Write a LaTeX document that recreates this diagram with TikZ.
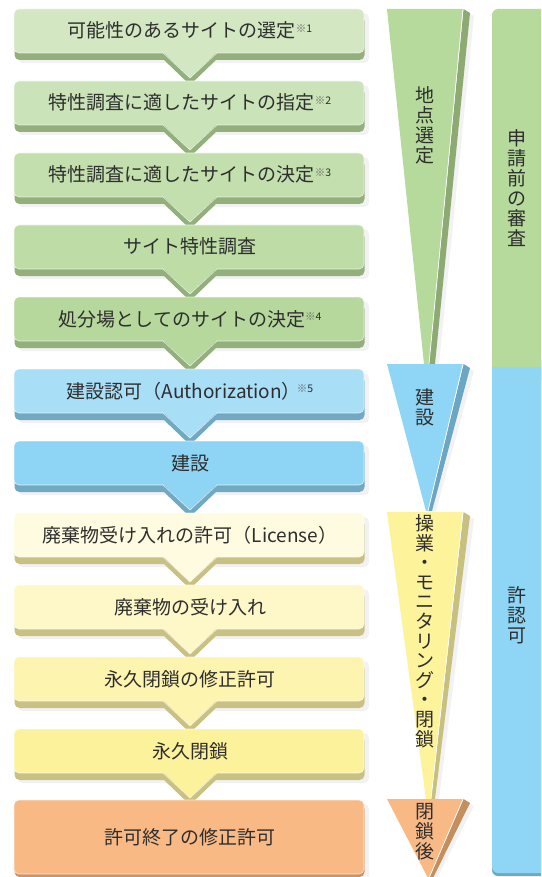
\documentclass[tikz,border=0pt]{standalone}
\usepackage{fontspec}
\setmainfont{Noto Sans CJK JP}
\definecolor{txt}{HTML}{2E2E2E}
\definecolor{ntc}{HTML}{666666}
\definecolor{gA}{HTML}{D3E7C2}
\definecolor{gB}{HTML}{CBE3B8}
\definecolor{gC}{HTML}{C4DFAE}
\definecolor{gD}{HTML}{BEDCA6}
\definecolor{gE}{HTML}{B6D89C}
\definecolor{gS}{HTML}{92AF7C}
\definecolor{bA}{HTML}{A9DEF7}
\definecolor{bB}{HTML}{8ED5F5}
\definecolor{bS}{HTML}{72A9C2}
\definecolor{yA}{HTML}{FEFBE0}
\definecolor{yB}{HTML}{FEF8C8}
\definecolor{yC}{HTML}{FDF4B0}
\definecolor{yD}{HTML}{FDF29C}
\definecolor{yS}{HTML}{C9C184}
\definecolor{oA}{HTML}{F9B985}
\definecolor{oS}{HTML}{C99466}
\definecolor{wG}{HTML}{B6D99C}
\definecolor{wGs}{HTML}{8DAA72}
\definecolor{wB}{HTML}{8FD5F5}
\definecolor{wBs}{HTML}{6BA7C2}
\definecolor{wY}{HTML}{FDF39B}
\definecolor{wYs}{HTML}{C8C07F}
\definecolor{wO}{HTML}{F9B985}
\definecolor{wOs}{HTML}{C38F5E}
\definecolor{colG}{HTML}{B6DA9C}
\definecolor{colB}{HTML}{8FD6F6}
\definecolor{colBs}{HTML}{6DA8C4}
\newcommand\nt[1]{\raisebox{5.5pt}{\fontsize{10.5}{10.5}\selectfont\textcolor{ntc}{※}#1}}
% name, top, face, shade, text
\newcommand\flowbox[5]{%
  \fill[black,opacity=0.05,rounded corners=5pt] (18,{#2+4}) rectangle (369,{#2+54});
  \fill[#4,rounded corners=5pt] (14.5,{#2+7}) rectangle (364.5,{#2+51});
  \fill[#4] (163,{#2+50}) -- (190,{#2+76}) -- (217,{#2+50}) -- cycle;
  \filldraw[fill=#3,draw=white,draw opacity=0.7,line width=0.6pt,rounded corners=5pt] (14,#2) rectangle (364,{#2+44});
  \fill[#3] (163,{#2+43}) -- (190,{#2+69}) -- (217,{#2+43}) -- cycle;
  \draw[white,opacity=0.7,line width=0.6pt] (163,{#2+44}) -- (190,{#2+69}) -- (217,{#2+44});
  \node[boxtext] (#1) at (190,{#2+29}) {#5};
}
% face, side, top, bottom, xl, xr (bottom face x), xs (bottom side x)
\newcommand\stagewedge[7]{%
  \fill[black,opacity=0.05] (466,{#3+3}) -- (474,{#3+7}) -- ({#7+4},#4) -- (#7,#4) -- cycle;
  \fill[#2] (463.5,#3) -- (470,{#3+4}) -- (#7,#4) -- (#6,#4) -- cycle;
  \fill[#1] (387,#3) -- (463,#3) -- (#6,#4) -- (#5,#4) -- cycle;
  \draw[white,line width=0.7pt] (463,#3) -- (#6,#4);
}
\tikzset{
  boxtext/.style={font=\fontsize{19}{20}\selectfont, text=txt, inner sep=0pt, anchor=base},
  vtext/.style={font=\fontsize{19}{20}\selectfont, text=txt, inner sep=0pt, align=center},
}
\begin{document}
\begin{tikzpicture}[x=1pt,y=-1pt]
\useasboundingbox (0,0) rectangle (541,877);
\clip (0,0) rectangle (541,877);
\fill[white] (0,0) rectangle (541,877);
% right column
\fill[colBs,rounded corners=6pt] (492,360) rectangle (560,876);
\fill[colB,rounded corners=6pt] (492,360) rectangle (560,873);
\fill[colG,rounded corners=6pt] (492,9) rectangle (560,380);
\fill[colB] (492,367) rectangle (560,380);
\node[vtext] (pre) at (516.5,188) {申\\請\\前\\の\\審\\査};
\node[vtext] (lic) at (516.5,615) {許\\認\\可};
% wedges
\stagewedge{wG}{wGs}{9}{364}{424}{429}{435}
\stagewedge{wB}{wBs}{364}{511}{426}{428}{432}
\stagewedge{wY}{wYs}{512}{799}{426}{431}{435}
\stagewedge{wO}{wOs}{799}{878}{428}{429}{433}
\node[vtext] (w1) at (425,125) {地\\点\\選\\定};
\node[vtext] (w2) at (425,407) {建\\設};
\node[vtext,font=\fontsize{19}{19.6}\selectfont] (w3) at (425,631) {操\\業\\・\\モ\\ニ\\タ\\リ\\ン\\グ\\・\\閉\\鎖};
\node[vtext] (w4) at (425,832) {閉\\鎖\\後};
% flow boxes
\flowbox{s1}{9}{gA}{gS}{可能性のあるサイトの選定\nt{1}}
\flowbox{s2}{81}{gB}{gS}{特性調査に適したサイトの指定\nt{2}}
\flowbox{s3}{153}{gC}{gS}{特性調査に適したサイトの決定\nt{3}}
\flowbox{s4}{225}{gD}{gS}{サイト特性調査}
\flowbox{s5}{297}{gE}{gS}{処分場としてのサイトの決定\nt{4}}
\flowbox{s6}{369}{bA}{bS}{建設認可（Authorization）\kern-4pt\nt{5}}
\flowbox{s7}{441}{bB}{bS}{建設}
\flowbox{s8}{513}{yA}{yS}{廃棄物受け入れの許可（License）}
\flowbox{s9}{585}{yB}{yS}{廃棄物の受け入れ}
\flowbox{s10}{657}{yC}{yS}{永久閉鎖の修正許可}
\flowbox{s11}{729}{yD}{yS}{永久閉鎖}
% final box
\fill[black,opacity=0.05,rounded corners=5pt] (18,804) rectangle (369,880);
\fill[oS,rounded corners=5pt] (14.5,804) rectangle (364.5,877);
\filldraw[fill=oA,draw=white,draw opacity=0.7,line width=0.6pt,rounded corners=5pt] (14,800) rectangle (364,874);
\node[boxtext] (s12) at (190,844) {許可終了の修正許可};
\end{tikzpicture}
\end{document}
